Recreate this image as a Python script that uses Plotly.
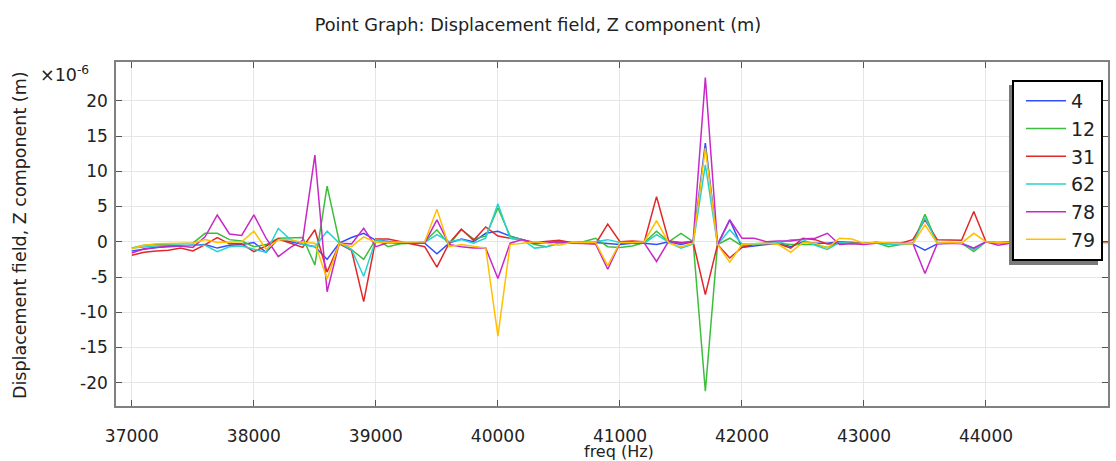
import plotly.graph_objects as go

freq = [37000 + 100 * i for i in range(81)]

s4 = [-1.3, -1.0, -0.8, -0.7, -0.6, -0.6, -0.4, -0.9, -0.5, -0.4,
      -0.1, -1.5, 0.4, 0.0, -0.4, -0.7, -2.5, -0.2, 0.6, 1.2,
      0.2, 0.0, -0.1, -0.2, -0.2, -1.7, -0.2, 0.4, 0.0, 1.2,
      1.5, 0.8, 0.3, -0.2, -0.1, 0.0, -0.1, -0.2, -0.1, -0.3,
      -0.4, -0.2, -0.2, -0.4, 0.0, -0.4, 0.0, 14.0, -0.4, 3.1,
      -0.8, -0.6, -0.4, -0.2, -0.7, 0.0, -0.2, -0.2, 0.0, -0.1,
      -0.2, -0.1, -0.2, -0.3, -0.3, -1.2, -0.3, -0.2, -0.2, -0.9,
      0.0, -0.2, -0.1, -0.1, 0.0, -0.1, 0.0, -0.1, 0.0, -0.1, 0.0]
s12 = [-0.9, -0.5, -0.4, -0.3, -0.3, -0.2, 1.2, 1.2, 0.3, 0.1,
       -0.7, -0.4, 0.5, 0.5, 0.6, -3.3, 7.9, 0.0, -1.1, -2.5,
       0.4, -0.7, -0.3, -0.2, 0.0, 1.7, -0.4, 1.7, 0.4, 0.8,
       4.8, 0.8, 0.3, -0.4, -0.7, -0.2, -0.1, 0.0, 0.5, -0.7,
       -0.8, -0.6, -0.1, 1.5, 0.0, 1.2, 0.0, -21.2, -0.4, 0.5,
       -0.6, -0.3, -0.2, -0.2, -0.4, -0.4, -0.4, -0.8, -0.1, -0.2,
       -0.3, -0.1, -0.7, -0.4, -0.3, 3.9, -0.2, -0.2, -0.2, -1.4,
       0.0, -0.2, -0.1, -0.1, 0.0, -0.1, 0.0, -0.1, 0.0, -0.1, 0.0]
s31 = [-1.9, -1.5, -1.3, -1.2, -0.9, -1.3, -0.4, 0.6, -0.3, -0.3,
       -1.4, -0.6, 0.4, -0.2, -0.8, 1.7, -4.3, -0.3, -1.2, -8.5,
       0.4, 0.4, 0.0, -0.3, -0.7, -3.6, -0.2, 1.8, 0.2, 2.1,
       0.8, 0.5, 0.3, -0.1, 0.0, 0.2, -0.1, -0.2, -0.3, 2.5,
       0.0, 0.1, 0.0, 6.4, 0.1, -0.1, 0.0, -7.5, -0.4, -2.3,
       -0.8, -0.4, -0.2, -0.3, -0.9, 0.5, 0.3, -0.3, -0.2, -0.1,
       -0.2, -0.1, -0.3, -0.2, 0.3, 3.1, 0.3, 0.2, 0.2, 4.3,
       0.0, -0.1, 0.0, -0.1, 0.0, -0.1, 0.0, -0.1, 0.0, -0.1, -0.1]
s62 = [-0.9, -0.7, -0.6, -0.5, -0.5, -0.5, -0.5, -1.4, -0.7, -0.6,
       -1.1, -1.5, 1.9, 0.3, -0.4, -0.7, 1.5, -0.2, -1.1, -4.9,
       0.3, -0.1, -0.1, -0.2, -0.1, 1.0, 0.0, 0.3, -0.2, 0.5,
       5.4, 0.5, 0.3, -0.9, -0.7, -0.2, -0.1, -0.1, 0.0, 0.3,
       -0.1, -0.2, -0.2, 1.0, -0.1, -0.9, -0.3, 10.9, -0.4, 1.7,
       -0.3, -0.4, -0.2, -0.2, 0.3, 0.3, -0.5, -1.1, -0.1, -0.2,
       -0.2, -0.2, -0.4, -0.3, -0.3, 3.4, -0.2, -0.2, -0.2, -1.1,
       0.0, -0.2, -0.1, -0.1, 0.0, -0.1, 0.0, -0.1, 0.0, -0.1, 0.0]
s78 = [-1.6, -1.0, -0.8, -0.6, -0.6, -0.8, 0.7, 3.8, 1.1, 0.9,
       3.8, 0.5, -2.1, -0.8, 0.2, 12.3, -7.1, -0.2, -0.3, 1.9,
       -0.7, -0.1, -0.2, -0.2, -0.2, 3.1, -0.4, -0.7, -0.9, -0.9,
       -5.2, -0.2, 0.3, -0.2, -0.1, 0.0, -0.2, -0.2, -0.3, -3.9,
       -0.2, -0.2, -0.2, -2.8, 0.1, -0.2, 0.1, 23.3, -0.4, 3.1,
       0.5, 0.5, 0.0, 0.1, 0.1, 0.4, 0.5, 1.2, -0.4, -0.3,
       -0.4, -0.2, -0.2, -0.2, -0.2, -4.5, -0.3, -0.2, -0.3, -0.9,
       0.0, -0.5, -0.2, -0.1, 0.0, -0.1, 0.0, -0.1, 0.0, -0.1, 0.0]
s79 = [-1.0, -0.5, -0.3, -0.2, -0.2, -0.2, 0.3, -0.1, 0.0, 0.0,
       1.5, -1.1, 0.3, 0.3, -0.1, -0.2, -5.3, -0.2, -0.7, 0.7,
       -0.1, -0.1, -0.1, -0.1, 0.0, 4.6, -0.7, -0.4, -0.7, -0.9,
       -13.4, -0.4, -0.2, 0.0, -0.2, -0.5, -0.1, -0.1, -0.1, -3.4,
       -0.1, -0.1, 0.0, 3.0, -0.2, -0.7, -0.2, 13.3, -0.4, -2.9,
       -0.4, -0.3, -0.2, -0.4, -1.5, -0.1, -0.2, -0.9, 0.5, 0.4,
       -0.2, -0.1, -0.2, -0.2, -0.3, 2.4, -0.2, -0.1, -0.2, 1.2,
       0.0, -0.1, -0.1, -0.1, 0.0, -0.1, 0.0, -0.1, 0.0, -0.1, 0.0]

series_names = ["4", "12", "31", "62", "78", "79"]
series_values = [s4, s12, s31, s62, s78, s79]
colors = ["#3050ff", "#3cbe3c", "#e02828", "#28d2d2", "#c828c8", "#ffc000"]

x_tickvals = [37000, 38000, 39000, 40000, 41000, 42000, 43000, 44000, 45000]
x_ticktext = ["37000", "38000", "39000", "40000", "41000", "42000", "43000", "44000", ""]
y_tickvals = [-20, -15, -10, -5, 0, 5, 10, 15, 20]
y_ticktext = ["-20", "-15", "-10", "-5", "0", "5", "10", "15", "20"]

FONT = "DejaVu Sans"
TXT = "#222222"

# plot area in pixels
L, R, T, B = 116, 1108, 62, 406
W, H = R - L, B - T


def px(xp):
    return (xp - L) / W


def py(yp):
    return (B - yp) / H


fig = go.Figure()
for name, vals, col in zip(series_names, series_values, colors):
    fig.add_trace(go.Scatter(x=freq, y=vals, mode="lines", name=name, legendgroup=name,
                             line=dict(color=col, width=1.5)))

axis_common = dict(showline=True, linecolor="#808080", linewidth=1.5, mirror="ticks",
                   ticks="inside", ticklen=6, tickcolor="#555555",
                   showgrid=True, gridcolor="#e6e6e6", gridwidth=1,
                   zeroline=False, automargin=False,
                   tickfont=dict(family=FONT, size=17, color=TXT))

fig.update_layout(
    width=1116, height=461,
    margin=dict(l=L, r=1116 - R, t=T, b=461 - B, autoexpand=False),
    paper_bgcolor="white", plot_bgcolor="white",
    font=dict(family=FONT, color=TXT),
    title=dict(text="Point Graph: Displacement field, Z component (m)",
               x=538 / 1116, xanchor="center", y=1 - 25 / 461, yanchor="middle",
               yref="container", font=dict(family=FONT, size=17.7, color=TXT)),
    xaxis=dict(range=[36870, 45000], tickvals=x_tickvals, ticktext=x_ticktext,
               ticklabelstandoff=14, **axis_common),
    yaxis=dict(range=[-23.3, 25.5], tickvals=y_tickvals, ticktext=y_ticktext,
               ticklabelstandoff=3, **axis_common),
    legend=dict(x=px(1103), xanchor="right", y=py(80), yanchor="top",
                bgcolor="white", bordercolor="black", borderwidth=2,
                font=dict(family=FONT, size=19, color=TXT),
                tracegroupgap=0, itemwidth=40, indentation=7),
    showlegend=True,
)

# axis titles
fig.add_annotation(text="Displacement field, Z component (m)", xref="paper", yref="paper",
                   x=px(20), y=py(235), xanchor="center", yanchor="middle", textangle=-90,
                   showarrow=False, font=dict(family=FONT, size=17.5, color=TXT))
fig.add_annotation(text="freq (Hz)", xref="paper", yref="paper",
                   x=px(619), y=py(451.5), xanchor="center", yanchor="middle",
                   showarrow=False, font=dict(family=FONT, size=16, color=TXT))
# exponent label
fig.add_annotation(text="×10<sup>-6</sup>", xref="paper", yref="paper",
                   x=px(38), y=py(74), xanchor="left", yanchor="middle",
                   showarrow=False, font=dict(family=FONT, size=17.5, color=TXT))

# legend shadow (offset down-left of the legend box)
fig.add_shape(type="rect", xref="paper", yref="paper",
              x0=px(1009), x1=px(1098), y0=py(265), y1=py(85),
              fillcolor="#7a7a7a", line=dict(width=0), layer="above")

fig.write_html("out.html", config={"displayModeBar": False})

# remove default page margin so the figure sits at the window's top-left corner
with open("out.html", "r", encoding="utf-8") as f:
    html = f.read()
html = html.replace("<head>", "<head><style>html,body{margin:0;padding:0;overflow:hidden;}</style>", 1)
with open("out.html", "w", encoding="utf-8") as f:
    f.write(html)
